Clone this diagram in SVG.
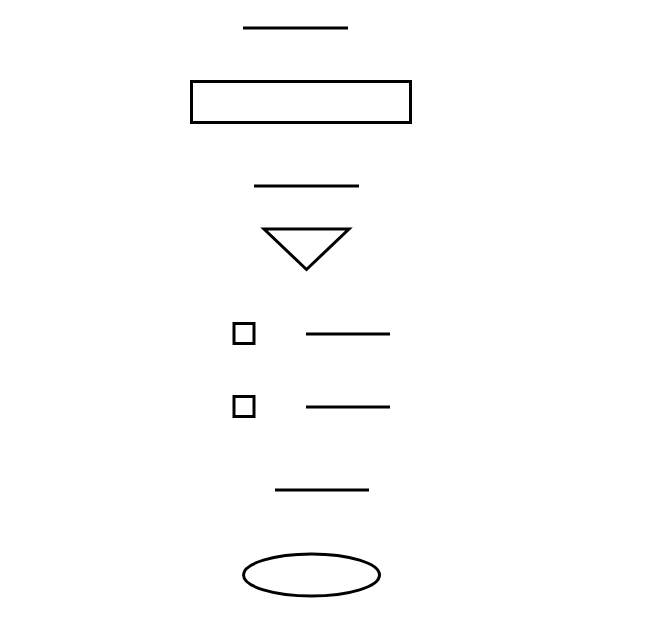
<svg xmlns="http://www.w3.org/2000/svg" width="646" height="637" viewBox="0 0 646 637">
<style>
.s{fill:none;stroke:#000;stroke-width:3}
.l{stroke:#000;stroke-width:3}
</style>
<rect width="646" height="637" fill="#fff"/>
<g id="connectors">
<line class="l" x1="243" y1="28" x2="348" y2="28"/>
<line class="l" x1="254" y1="186" x2="359" y2="186"/>
<line class="l" x1="306" y1="334" x2="390" y2="334"/>
<line class="l" x1="306" y1="407" x2="390" y2="407"/>
<line class="l" x1="275" y1="490" x2="369" y2="490"/>
</g>
<g id="rect1"><rect class="s" x="191.5" y="81.5" width="219" height="41"/></g>
<g id="triangle1"><polygon class="s" points="264,229 349,229 306.5,269.5"/></g>
<g id="box1"><rect class="s" x="234" y="323.5" width="20" height="20"/></g>
<g id="box2"><rect class="s" x="234" y="396.5" width="20" height="20"/></g>
<g id="ellipse1"><ellipse class="s" cx="311.5" cy="575" rx="68" ry="21"/></g>
</svg>
